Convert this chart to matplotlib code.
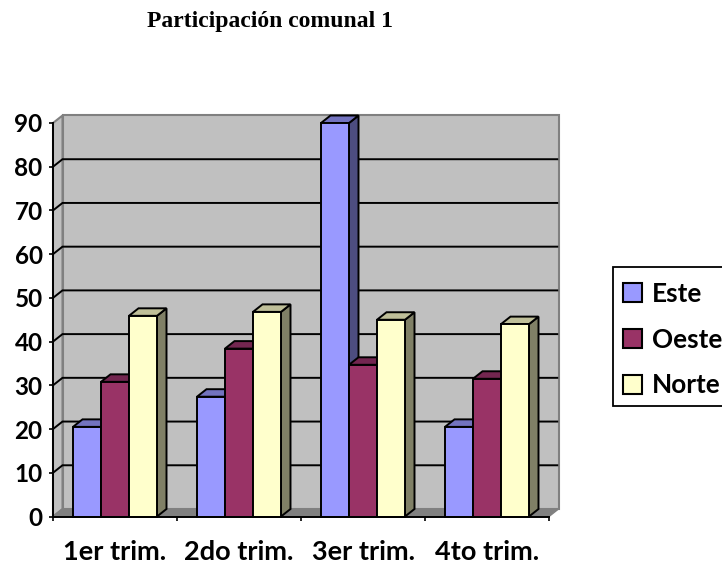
import matplotlib
matplotlib.use('Agg')
import matplotlib.pyplot as plt
from matplotlib.patches import Polygon, Patch, Rectangle
import numpy as np

# Values
categories = ['1er trim.', '2do trim.', '3er trim.', '4to trim.']
este = [20.5, 27.4, 90, 20.5]
oeste = [30.8, 38.4, 34.7, 31.5]
norte = [45.9, 46.8, 45, 44]
yticks = [0, 10, 20, 30, 40, 50, 60, 70, 80, 90]

series = [('Este', este, '#9999FF', '#7373BF', '#4D4D80'),
          ('Oeste', oeste, '#993366', '#732650', '#4D1A33'),
          ('Norte', norte, '#FFFFCC', '#BFBF99', '#808066')]

W, H = 722, 565
fig = plt.figure(figsize=(W / 100, H / 100), dpi=100)
ax = fig.add_axes([53 / W, (H - 516.5) / H, 496 / W, 393.5 / H])
ax.set_xlim(-0.5, 3.5)
ax.set_ylim(0, 90)

# Depth of the fake 3D box, in data units
dx = 9.5 / 124
dy = 7.5 * 90 / 393.5
bw = 28 / 124

# Walls and floor
ax.add_patch(Polygon([(-0.5 + dx, dy), (3.5 + dx, dy), (3.5 + dx, 90 + dy), (-0.5 + dx, 90 + dy)],
                     fc='#C0C0C0', ec='#808080', lw=1.5, clip_on=False, zorder=1))
ax.add_patch(Polygon([(-0.5, 0), (-0.5 + dx, dy), (-0.5 + dx, 90 + dy), (-0.5, 90)],
                     fc='#C0C0C0', ec='#808080', lw=1.5, clip_on=False, zorder=1))
ax.add_patch(Polygon([(-0.5, 0), (3.5, 0), (3.5 + dx, dy), (-0.5 + dx, dy)],
                     fc='#808080', ec='#808080', lw=1, clip_on=False, zorder=1))

# Gridlines run along the side wall and the back wall, 90 stays as the grey wall edge
for t in yticks[1:-1]:
    ax.plot([-0.5, -0.5 + dx, 3.5 + dx - 0.01], [t, t + dy, t + dy], color='black', lw=1.4,
            clip_on=False, zorder=2, solid_joinstyle='miter')

z = 3
for i in range(len(categories)):
    for j, (name, vals, front, top, side) in enumerate(series):
        x0 = i + (j - 1.5) * bw
        v = vals[i]
        ax.add_patch(Polygon([(x0 + bw, 0), (x0 + bw + dx, dy), (x0 + bw + dx, v + dy), (x0 + bw, v)],
                             fc=side, ec='black', lw=1.4, clip_on=False, zorder=z))
        ax.add_patch(Polygon([(x0, v), (x0 + bw, v), (x0 + bw + dx, v + dy), (x0 + dx, v + dy)],
                             fc=top, ec='black', lw=1.4, clip_on=False, zorder=z))
        ax.bar(x0, v, bw, align='edge', color=front, edgecolor='black', lw=1.4, clip_on=False, zorder=z)
        z += 1

for s in ['top', 'right']:
    ax.spines[s].set_visible(False)
for s in ['left', 'bottom']:
    ax.spines[s].set_linewidth(1.4)
    ax.spines[s].set_zorder(z)
ax.set_yticks(yticks)
ax.set_xticks(np.arange(-0.5, 4, 1))
ax.set_xticklabels([])
ax.tick_params(axis='both', length=3, width=1.2, color='black')
ax.tick_params(axis='y', pad=4.5)
for lab in ax.get_yticklabels():
    lab.set_fontname('Lato')
    lab.set_fontweight('bold')
    lab.set_fontsize(17.5)
for i, c in enumerate(categories):
    ax.text(i, -9.9, c, ha='center', va='baseline', fontname='Lato', fontweight='bold', fontsize=19.5)

fig.text(270 / W, 1 - 27.5 / H, 'Participación comunal 1', ha='center', va='baseline',
         fontname='Liberation Serif', fontweight='bold', fontsize=17)

# Legend box runs off the right edge, so the frame is drawn apart from the entries
fig.add_artist(Rectangle((612.7 / W, 1 - 405.5 / H), 120 / W, 138.5 / H, transform=fig.transFigure,
                         fc='white', ec='black', lw=1.3))
handles = [Patch(fc=s[2], ec='black', lw=1.5, label=s[0]) for s in series]
leg = fig.legend(handles=handles, loc='upper left', bbox_to_anchor=(612.7 / W, 1 - 271.5 / H), frameon=False,
                 borderaxespad=0, borderpad=0.4, handlelength=0.73, handleheight=0.73, handletextpad=0.38,
                 labelspacing=0.83, prop={'family': 'Lato', 'weight': 'bold', 'size': 18.8})

fig.savefig('out.png', dpi=100)
